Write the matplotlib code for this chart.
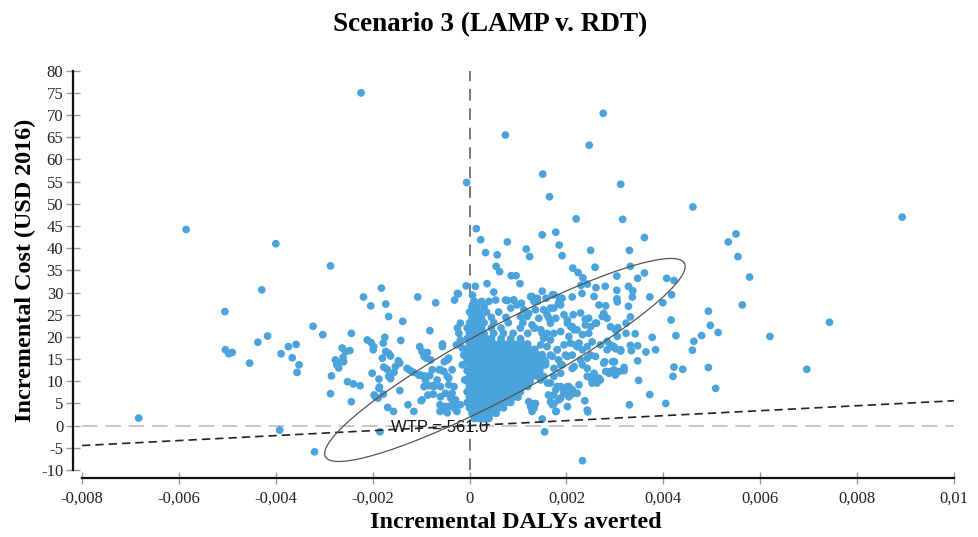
import numpy as np
import matplotlib
matplotlib.use("Agg")
import matplotlib.pyplot as plt

# ---------------- data ----------------
# individually readable points: incremental DALYs averted / incremental cost (USD 2016)
dalys = [
    -0.00224, -0.00585, -0.0040, -0.00287, -0.00429, -0.00182, -0.00006, 0.00014, 0.00023,
    -0.00219, -0.00107, -0.00025, -0.00007, 0.00074, 0.00276, 0.00247, 0.00151, 0.00312,
    0.00165, 0.00461, 0.00893, 0.0022, 0.00316, 0.00078, 0.0015, 0.00178, 0.00185, 0.00191,
    0.00361, 0.0033, 0.0025, 0.00033, 0.00057, 0.00117, 0.00124, 0.00534, 0.0055, 0.00554,
    0.00578, 0.00055, 0.00062, 0.00086, 0.00096, 0.00104, 0.00036, 0.0005, 0.00012, 0.0015,
    0.00213, 0.00224, 0.00234, 0.00259, 0.00304, 0.00332, 0.00361, 0.00347, 0.00407, 0.00422,
    0.0023, 0.00243, 0.00261, 0.0028, 0.00304, 0.00328, 0.00337, 0.00232, 0.00257, 0.00336,
    0.00372, 0.00417,
    # right side
    0.00399, 0.00328, 0.00332, 0.00416, 0.00493, 0.00563, 0.00497, 0.00513, 0.00479, 0.00426,
    0.0062, 0.00342, 0.00377, 0.00332, 0.00347, 0.00334, 0.00364, 0.00384, 0.00463, 0.0046,
    0.00347, 0.00319, 0.00319, 0.00422, 0.0044, 0.0042, 0.00493, 0.00696, 0.00349, 0.00508,
    0.00372, 0.0033, 0.00405, 0.00743, 0.00233, 0.00155, 0.0015, 0.00244, 0.00179, 0.00312,
    0.00299, 0.00279, 0.00295, 0.00284, 0.00323, 0.00323, 0.00305, 0.00304, 0.00281,
    # middle
    0.00171, 0.00186, 0.00185, 0.00212, 0.00129, 0.0014, 0.00078, 0.00091, 0.00107, 0.0004,
    0.00054, 0.00158, 0.00006, 0.00009, 0.00214, 0.00229, 0.00239, 0.00246, 0.00239, 0.00262,
    0.00277, 0.00284, 0.00306, 0.00305, 0.00291, 0.00302, 0.0025, 0.0026, 0.00219, 0.00226,
    0.00216, 0.00205, 0.00209, 0.00198, 0.00216, 0.00257, 0.00267, 0.00253, 0.00263, 0.00243,
    0.00281, 0.00291, 0.00301, 0.00226, 0.00205, 0.00195, 0.00216, 0.00188, 0.00178, 0.00238,
    0.00167, 0.00174, 0.00163, 0.00126, 0.00129, 0.00122, 0.00136, 0.00188, 0.00198, 0.00208,
    0.00147, 0.00161, 0.00174, 0.00188, 0.00157, 0.00171, 0.00188, 0.00181, 0.0016, 0.00167,
    0.00164, 0.00174, 0.00153, 0.00188, 0.00195, 0.00202, 0.00136, 0.00143, 0.00129, 0.00119,
    # halo along the ellipse
    0.00174, 0.00191, 0.00184, 0.00126, 0.00133, 0.0014, 0.00074, 0.00091, 0.00098, 0.00085,
    0.00112, 0.00122, 0.00105, 0.00167, 0.0016, 0.00178, 0.00267, 0.00277, 0.00274,
    0.00202, 0.00212, 0.00222, 0.00233, 0.00246, 0.0025, 0.0026, 0.00291, 0.00301,
    0.00133, 0.00147, 0.00174, 0.00188, 0.00153, 0.00167,
    0.00147, 0.0016, 0.00181, 0.00195, 0.00208, 0.00222, 0.00233, 0.00243, 0.00253, 0.0027,
    0.00284, 0.00298, 0.00312,
    0.00167, 0.00184, 0.00202, 0.00212, 0.00229, 0.00243,
    0.00147, 0.00157, 0.00174, 0.00191, 0.00212, 0.00233, 0.00243, 0.00257, 0.0027, 0.0025,
    0.00264, 0.00277, 0.00295, 0.00298, 0.00308, 0.00288,
    0.00153, 0.00167, 0.00181, 0.00202, 0.00212, 0.00195, 0.00174, 0.00184, 0.00205, 0.00222,
    0.00126, 0.00133, 0.00171, 0.00178, 0.00202, 0.00243,
    # left side
    -0.00683, -0.00505, -0.00504, -0.00497, -0.0049, -0.00454, -0.00437, -0.00417, -0.00389,
    -0.00374, -0.00358, -0.00366, -0.00352, -0.00356, -0.00323, -0.00392, -0.0032,
    -0.00303, -0.00244, -0.00204, -0.00173, -0.00167, -0.00138, -0.0007, -0.00031, -0.00023,
    -0.00082, -0.00263, -0.00256, -0.00247, -0.00277, -0.00274, -0.0027, -0.0026, -0.00261,
    -0.00285, -0.00287, -0.00252, -0.0024, -0.00226, -0.00244, -0.00211, -0.00203, -0.00198,
    -0.00199, -0.00201, -0.00187, -0.00187, -0.00197, -0.00189, -0.0018, -0.00178, -0.00175,
    -0.00173, -0.00167, -0.00163, -0.00177, -0.0017, -0.00167, -0.00163, -0.00156, -0.00169,
    -0.00157, -0.00147, -0.00142, -0.00129, -0.00122, -0.00116, -0.00144, -0.00127, -0.00115,
    -0.00185, -0.00103, -0.00098, -0.00087, -0.00094, -0.00089, -0.00101, -0.00094, -0.00091,
    -0.00094, -0.00084, -0.00074, -0.00077, -0.00086, -0.00098, -0.00056, -0.00046, -0.00043,
    -0.00052, -0.00036, -0.0006, -0.00067, -0.0006, -0.0005, -0.00039, -0.00034, -0.00043,
    -0.00031, -0.00061, -0.00054, -0.00027, -0.00022, -0.00019, -0.00025, -0.00019, -0.00015,
    -0.00012, -0.00015, -0.0001, -0.00043, -0.00032, -0.00036, -0.00029, -0.00019, -0.00026,
    -0.00186, -0.00194, -0.00178, -0.00153, -0.00144, -0.00105, -0.00093, -0.00082, -0.00075,
    -0.001, -0.00075, -0.0006, -0.00056, -0.0008, -0.00063, -0.00053, -0.00046, -0.00043,
    -0.0005, -0.00061, -0.00046, -0.00272,
]
costs = [
    75.0, 44.2, 41.0, 36.0, 30.6, 31.0, 54.8, 44.4, 41.9,
    29.0, 29.0, 29.8, 31.5, 65.5, 70.4, 63.2, 56.7, 54.4,
    51.6, 49.3, 47.0, 46.6, 46.5, 41.4, 43.0, 43.6, 40.7, 38.3,
    42.4, 39.5, 39.5, 39.0, 38.5, 39.8, 38.1, 41.4, 43.2, 38.1,
    33.5, 35.9, 34.7, 33.8, 33.8, 32.0, 32.0, 30.1, 31.4, 30.3,
    35.5, 34.5, 33.3, 35.7, 33.7, 35.9, 34.4, 33.2, 33.2, 32.7,
    31.6, 31.9, 31.1, 31.4, 30.5, 31.4, 30.4, 29.8, 29.1, 29.0,
    29.0, 29.5,
    # right side
    27.7, 26.9, 24.5, 23.8, 25.8, 27.2, 22.6, 21.0, 20.3, 20.3,
    20.1, 20.7, 19.9, 18.1, 18.0, 16.9, 16.6, 17.1, 19.0, 17.0,
    14.6, 13.1, 12.4, 13.2, 12.7, 11.1, 13.1, 12.7, 10.2, 8.4,
    7.0, 4.7, 5.0, 23.3, -7.9, -1.4, 1.5, 3.1, 3.2, 16.8,
    14.4, 14.4, 17.8, 19.0, 20.8, 23.1, 27.9, 28.6, 27.0,
    # middle
    29.5, 28.7, 27.8, 29.0, 29.1, 28.0, 28.2, 28.3, 27.6, 28.0,
    28.3, 28.7, 29.4, 28.0, 25.0, 25.4, 24.0, 24.2, 22.7, 23.1,
    25.0, 24.2, 22.1, 20.1, 18.2, 17.3, 15.9, 15.6, 18.2, 18.6,
    21.6, 20.1, 22.3, 15.9, 13.3, 11.8, 10.7, 9.6, 9.6, 11.1,
    12.2, 12.2, 11.4, 9.2, 8.8, 7.7, 7.3, 8.8, 8.1, 5.6,
    5.4, 4.9, 6.9, 4.3, 3.2, 5.4, 5.0, 6.2, 7.3, 6.9,
    10.3, 9.6, 11.1, 11.8, 14.4, 15.6, 13.7, 17.1, 20.8, 23.1,
    24.2, 26.5, 26.1, 27.2, 25.0, 23.8, 26.1, 24.2, 22.7, 24.6,
    # halo along the ellipse
    29.5, 28.7, 27.6, 29.1, 28.0, 28.7, 28.3, 28.3, 27.2, 26.5,
    26.1, 25.3, 24.6, 26.5, 25.0, 24.2, 27.2, 25.3, 24.6,
    23.1, 22.3, 21.6, 20.5, 20.8, 22.3, 23.1, 22.3, 21.6,
    22.0, 21.6, 20.8, 21.2, 19.7, 19.3,
    18.2, 17.8, 17.1, 18.2, 18.6, 17.8, 17.1, 17.8, 18.9, 18.2,
    17.1, 17.8, 17.1,
    15.9, 14.8, 15.6, 15.9, 14.8, 15.2,
    14.8, 13.7, 12.9, 13.7, 12.9, 13.7, 12.9, 11.4, 10.3, 10.7,
    9.9, 14.1, 14.4, 12.6, 12.2, 11.8,
    11.1, 9.6, 8.8, 8.8, 8.1, 7.3, 6.9, 5.8, 6.5, 7.3,
    5.1, 3.9, 4.7, 3.2, 4.3, 3.5,
    # left side
    1.7, 25.7, 17.1, 16.2, 16.5, 14.1, 18.8, 20.2, 16.2,
    17.8, 18.3, 15.3, 13.7, 12.0, 22.4, -1.0, -5.9,
    20.5, 20.8, 27.0, 27.4, 24.6, 23.5, 27.7, 28.3, 29.7,
    21.4, 17.5, 16.7, 16.9, 14.8, 13.7, 13.0, 14.4, 15.4,
    11.2, 7.2, 9.9, 9.4, 9.0, 5.4, 19.3, 18.7, 17.8,
    17.1, 11.8, 10.5, 8.4, 6.9, 6.2, 15.2, 18.6, 19.9,
    16.7, 16.3, 15.7, 13.2, 12.7, 11.1, 10.6, 12.0, 4.1,
    3.2, 14.6, 19.2, 12.9, 12.4, 12.0, 7.9, 4.7, 3.2,
    -1.4, 17.8, 16.7, 16.5, 15.6, 15.2, 11.4, 11.1, 10.3,
    8.8, 9.0, 8.8, 12.6, 6.9, 5.8, 17.8, 14.8, 15.2,
    14.4, 12.6, 12.6, 10.3, 8.8, 7.3, 6.2, 5.0, 4.3,
    3.9, 4.7, 3.5, 18.2, 20.8, 23.1, 22.0, 19.3, 17.5,
    15.9, 13.7, 10.3, 10.7, 8.8, 7.3, 5.8, 4.7, 3.2,
    8.7, 6.5, 7.1, 13.3, 14.1, 11.4, 11.2, 11.3, 9.0,
    5.6, 7.1, 6.5, 18.4, 14.8, 12.6, 12.2, 11.1, 9.2,
    4.3, 3.2, 2.9, 14.2,
]

# dense core of the cloud, read row by row: cost level -> DALYs averted (in units of 1e-4)
core_rows_e4 = {
    1.6: [1, 2, 3, 4],
    2.8: [0.5, 1.5, 2.5, 3.5, 4.5, 5.5],
    4.0: [0, 1, 2, 3, 4, 5, 6, 7],
    5.2: [-0.5, 0.5, 1.5, 2.5, 3.5, 4.5, 5.5, 6.5, 7.5, 8.5],
    6.4: [0, 1, 2, 3, 4, 5, 6, 7, 8, 9, 10],
    7.6: [-0.5, 0.5, 1.5, 2.5, 3.5, 4.5, 5.5, 6.5, 7.5, 8.5, 9.5, 10.5],
    8.8: [0, 1, 2, 3, 4, 5, 6, 7, 8, 9, 10, 11, 12],
    10.0: [-0.5, 0.5, 1.5, 2.5, 3.5, 4.5, 5.5, 6.5, 7.5, 8.5, 9.5, 10.5, 11.5, 12.5],
    11.2: [0, 1, 2, 3, 4, 5, 6, 7, 8, 9, 10, 11, 12, 13, 14],
    12.4: [-0.5, 0.5, 1.5, 2.5, 3.5, 4.5, 5.5, 6.5, 7.5, 8.5, 9.5, 10.5, 11.5, 12.5, 13.5, 14.5],
    13.6: [0, 1, 2, 3, 4, 5, 6, 7, 8, 9, 10, 11, 12, 13, 14, 15],
    14.8: [-0.5, 0.5, 1.5, 2.5, 3.5, 4.5, 5.5, 6.5, 7.5, 8.5, 9.5, 10.5, 11.5, 12.5, 13.5, 14.5, 15.5],
    16.0: [0, 1, 2, 3, 4, 5, 6, 7, 8, 9, 10, 11, 12, 13, 14, 15],
    17.2: [-0.5, 0.5, 1.5, 2.5, 3.5, 4.5, 5.5, 6.5, 7.5, 8.5, 9.5, 10.5, 11.5, 12.5, 13.5],
    18.4: [0, 1, 2, 3, 4, 5, 6, 7, 8, 9, 10, 11, 12],
    19.6: [-0.5, 0.5, 1.5, 2.5, 3.5, 4.5, 6.5, 8.5, 10.5],
    20.8: [0, 1, 2, 3, 5, 7, 9, 12, 15],
    22.0: [-0.5, 0.5, 1.5, 2.5, 4.5, 6.5, 10.5, 13.5],
    23.2: [0, 1, 2, 3, 5, 8, 11],
    24.4: [0.5, 1.5, 2.5, 4.5, 7.5],
    25.6: [0, 1, 2, 3.5, 6],
    26.8: [0.5, 1.5, 3],
    28.0: [1, 2.5],
}

wtp = 561.0                      # willingness-to-pay threshold (USD per DALY)
ellipse_center = (0.00073, 14.8)  # 95% confidence ellipse
ellipse_major = (0.003705, 21.8)
ellipse_minor = (0.000342, -6.95)

x_ticks = [-0.008, -0.006, -0.004, -0.002, 0.0, 0.002, 0.004, 0.006, 0.008, 0.01]
x_tick_labels = ["-0,008", "-0,006", "-0,004", "-0,002", "0", "0,002", "0,004", "0,006", "0,008", "0,01"]
y_ticks = [80, 75, 70, 65, 60, 55, 50, 45, 40, 35, 30, 25, 20, 15, 10, 5, 0, -5, -10]
y_tick_labels = [str(v) for v in y_ticks]

# ---------------- build ----------------
core_x = [v * 1e-4 for yv, row in core_rows_e4.items() for v in row]
core_y = [yv for yv, row in core_rows_e4.items() for v in row]
all_x = np.array(core_x + dalys)
all_y = np.array(core_y + costs)

W, H = 979, 537
fig = plt.figure(figsize=(W / 100, H / 100), dpi=100)
ax = fig.add_axes([82 / W, 1 - 470 / H, (954 - 82) / W, (470 - 70.7) / H])

serif = "Liberation Serif"
blue = "#4aa3db"

ax.axvline(0, color="#777777", lw=1.4, ls=(0, (6, 4)), zorder=1)
ax.axhline(0, color="#c8c8c8", lw=1.4, ls=(0, (8, 4)), zorder=1)

ax.text(-0.00163, -0.4, f"WTP = {wtp:.1f}", fontsize=12, family="Liberation Sans",
        color="#111111", va="center", ha="left", zorder=1.8)

ax.scatter(all_x, all_y, s=31, color=blue, edgecolors="none", zorder=2)

xl = np.array([-0.008, 0.01])
ax.plot(xl, wtp * xl, color="#222222", lw=1.2, ls=(0, (5, 3)), zorder=3)

t = np.linspace(0, 2 * np.pi, 400)
ex = ellipse_center[0] + ellipse_major[0] * np.cos(t) + ellipse_minor[0] * np.sin(t)
ey = ellipse_center[1] + ellipse_major[1] * np.cos(t) + ellipse_minor[1] * np.sin(t)
ax.plot(ex, ey, color="#555555", lw=0.9, zorder=3)

ax.set_xlim(-0.008, 0.01)
ax.set_ylim(-10, 80)
ax.set_xticks(x_ticks)
ax.set_xticklabels(x_tick_labels)
ax.set_yticks(y_ticks)
ax.set_yticklabels(y_tick_labels)

for s in ["top", "right"]:
    ax.spines[s].set_visible(False)
ax.spines["left"].set_position(("outward", 6.5))
ax.spines["bottom"].set_position(("outward", 5.8))
for s in ["left", "bottom"]:
    ax.spines[s].set_linewidth(1.6)
    ax.spines[s].set_color("#111111")

ax.tick_params(axis="y", direction="inout", length=10, width=1, color="#999999",
               labelsize=12, pad=2, labelcolor="#222222")
ax.tick_params(axis="x", direction="inout", length=8, width=1, color="#999999",
               labelsize=12, pad=5, labelcolor="#222222")
for lab in ax.get_xticklabels() + ax.get_yticklabels():
    lab.set_family(serif)

ax.set_xlabel("Incremental DALYs averted", family=serif, fontweight="bold", fontsize=17.4,
              va="center")
ax.xaxis.set_label_coords((516 - 82) / 872, (470 - 522) / 399.3)
ax.set_ylabel("Incremental Cost (USD 2016)", family=serif, fontweight="bold", fontsize=17.4,
              va="center")
ax.yaxis.set_label_coords((25 - 82) / 872, (470 - 270) / 399.3)

fig.suptitle("Scenario 3 (LAMP v. RDT)", family=serif, fontweight="bold", fontsize=19.5,
             x=490 / W, y=1 - 25 / H, va="center")

fig.savefig("out.png", dpi=100)
